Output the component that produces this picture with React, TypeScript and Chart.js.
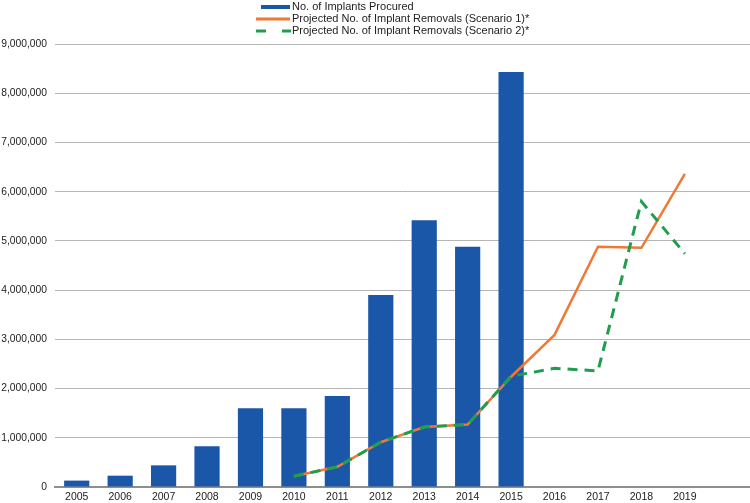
import React, { useEffect, useRef } from "react";
import { Chart, registerables } from "chart.js";

Chart.register(...registerables);

const years = ["2005", "2006", "2007", "2008", "2009", "2010", "2011", "2012", "2013", "2014", "2015", "2016", "2017", "2018", "2019", ""];
const implantsProcured = [130000, 230000, 440000, 830000, 1600000, 1600000, 1850000, 3900000, 5420000, 4880000, 8430000, null, null, null, null, null];
const removalsScenario1 = [null, null, null, null, null, 220000, 410000, 910000, 1220000, 1270000, 2240000, 3090000, 4880000, 4860000, 6360000, null];
const removalsScenario2 = [null, null, null, null, null, 220000, 410000, 910000, 1220000, 1270000, 2250000, 2410000, 2360000, 5800000, 4740000, null];
const legendLabels = [
  "No. of Implants Procured",
  "Projected No. of Implant Removals (Scenario 1)*",
  "Projected No. of Implant Removals (Scenario 2)*",
];

const BLUE = "#1b57a8";
const ORANGE = "#ee7a36";
const GREEN = "#1f9e4c";
const FONT = "'Liberation Sans', Arial, sans-serif";

const legendPlugin = {
  id: "stackedLegend",
  afterDraw(chart: any) {
    const ctx = chart.ctx;
    ctx.save();
    ctx.font = `11px ${FONT}`;
    ctx.fillStyle = "#222";
    ctx.textBaseline = "middle";
    ctx.textAlign = "left";
    const rows = [7, 19, 31];
    const textX = 292;
    ctx.strokeStyle = BLUE;
    ctx.lineWidth = 4;
    ctx.setLineDash([]);
    ctx.beginPath();
    ctx.moveTo(261, rows[0]);
    ctx.lineTo(290, rows[0]);
    ctx.stroke();
    ctx.strokeStyle = ORANGE;
    ctx.lineWidth = 3;
    ctx.beginPath();
    ctx.moveTo(256, rows[1]);
    ctx.lineTo(290, rows[1]);
    ctx.stroke();
    ctx.strokeStyle = GREEN;
    ctx.lineWidth = 3;
    ctx.setLineDash([10, 16]);
    ctx.beginPath();
    ctx.moveTo(256, rows[2]);
    ctx.lineTo(291, rows[2]);
    ctx.stroke();
    ctx.setLineDash([]);
    legendLabels.forEach((t, i) => ctx.fillText(t, textX, rows[i]));
    ctx.restore();
  },
};

export default function App() {
  const ref = useRef<HTMLCanvasElement | null>(null);
  useEffect(() => {
    if (!ref.current) return;
    Chart.defaults.font.family = FONT;
    const chart = new Chart(ref.current, {
      type: "bar",
      data: {
        labels: years,
        datasets: [
          {
            type: "line",
            label: legendLabels[2],
            data: removalsScenario2,
            borderColor: GREEN,
            backgroundColor: GREEN,
            borderWidth: 3,
            borderDash: [10, 7],
            pointRadius: 0,
            tension: 0,
            fill: false,
            order: 0,
          } as any,
          {
            type: "line",
            label: legendLabels[1],
            data: removalsScenario1,
            borderColor: ORANGE,
            backgroundColor: ORANGE,
            borderWidth: 2.5,
            pointRadius: 0,
            tension: 0,
            fill: false,
            order: 1,
          } as any,
          {
            type: "bar",
            label: legendLabels[0],
            data: implantsProcured,
            backgroundColor: BLUE,
            borderWidth: 0,
            barPercentage: 0.58,
            categoryPercentage: 1,
            order: 2,
          } as any,
        ],
      },
      options: {
        animation: false,
        responsive: false,
        layout: { padding: { top: 44, left: 0, right: 0, bottom: 0 } },
        plugins: {
          legend: { display: false },
          tooltip: { enabled: false },
        },
        scales: {
          x: {
            grid: { display: false, drawTicks: false },
            border: { display: true, color: "#8e8e8e", width: 2 },
            ticks: {
              color: "#222",
              font: { size: 10.5, family: FONT },
              padding: 4,
              maxRotation: 0,
              autoSkip: false,
            },
            afterFit: (s: any) => {
              s.height = 16;
            },
          },
          y: {
            min: 0,
            max: 9000000,
            grid: { color: "#b5b5b5", lineWidth: 1, drawTicks: false },
            border: { display: false },
            ticks: {
              stepSize: 1000000,
              color: "#222",
              font: { size: 10.3, family: FONT },
              padding: 8,
              callback: (v: any) => Number(v).toLocaleString("en-US"),
            },
            afterFit: (s: any) => {
              s.width = 55;
            },
          },
        },
      },
      plugins: [legendPlugin],
    });
    return () => chart.destroy();
  }, []);
  return (
    <div style={{ position: "fixed", left: 0, top: 0, width: 750, height: 503, background: "#fff" }}>
      <canvas ref={ref} width={750} height={503} style={{ display: "block" }} />
    </div>
  );
}
